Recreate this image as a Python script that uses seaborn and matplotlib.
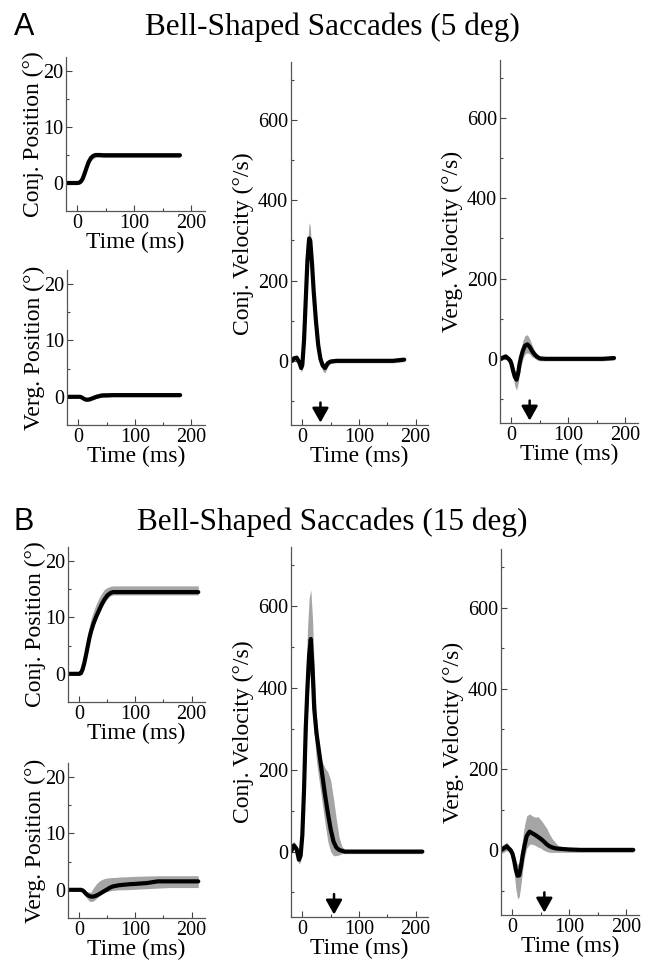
import numpy as np
import pandas as pd
import seaborn as sns
import matplotlib
matplotlib.use("Agg")
import matplotlib.pyplot as plt
from matplotlib.ticker import FixedLocator

# ---------------- data ----------------
# Panel A : 5 deg saccades
tA = [-18, -15, -10, -5, -2, 0, 3, 6, 9, 12, 14, 17, 20, 24, 28, 32, 36, 40, 45, 50,
      60, 80, 100, 120, 140, 160, 180]
conj_pos_A = [0, 0, 0, 0, 0, 0, 0.05, 0.25, 0.7, 1.5, 2.1, 3.0, 3.8, 4.5, 4.85, 5.0, 5.0, 5.0, 4.95, 4.95,
              4.95, 4.95, 4.95, 4.95, 4.95, 4.95, 4.95]
conj_pos_A_hi = [0.2, 0.2, 0.2, 0.2, 0.2, 0.2, 0.3, 0.6, 1.2, 2.1, 2.7, 3.6, 4.4, 5.0, 5.3, 5.4, 5.4, 5.4, 5.4, 5.4,
                 5.4, 5.4, 5.4, 5.4, 5.4, 5.4, 5.4]
conj_pos_A_lo = [-0.2, -0.2, -0.2, -0.2, -0.2, -0.2, -0.15, 0.0, 0.4, 1.1, 1.7, 2.5, 3.3, 4.0, 4.4, 4.6, 4.6, 4.6, 4.55, 4.55,
                 4.55, 4.55, 4.55, 4.55, 4.55, 4.55, 4.55]
verg_pos_A = [0, 0, 0, 0, 0, 0, 0, -0.1, -0.3, -0.45, -0.5, -0.5, -0.45, -0.3, -0.15, 0.0, 0.1, 0.2, 0.25, 0.25,
              0.3, 0.3, 0.3, 0.3, 0.3, 0.3, 0.3]
verg_pos_A_hi = [0.15, 0.15, 0.15, 0.15, 0.15, 0.15, 0.15, 0.1, -0.05, -0.15, -0.2, -0.15, -0.05, 0.15, 0.35, 0.5, 0.6, 0.7, 0.75, 0.75,
                 0.75, 0.75, 0.75, 0.75, 0.75, 0.75, 0.75]
verg_pos_A_lo = [-0.15, -0.15, -0.15, -0.15, -0.15, -0.15, -0.15, -0.3, -0.55, -0.75, -0.8, -0.8, -0.75, -0.6, -0.45, -0.3, -0.2, -0.1, -0.05, -0.05,
                 0.0, 0.0, 0.0, 0.0, 0.0, 0.0, 0.0]
conj_vel_A = [0, 6, 8, -5, -18, -10, 50, 150, 250, 305, 300, 245, 175, 100, 40, 5, -12, -18, -6, -2,
              0, 0, 0, 0, 0, 0, 3]
conj_vel_A_hi = [5, 12, 14, 2, -8, 5, 75, 185, 290, 345, 335, 270, 195, 118, 55, 15, -2, -8, 3, 5,
                 5, 5, 5, 5, 5, 5, 8]
conj_vel_A_lo = [-5, 0, 2, -12, -28, -22, 30, 120, 220, 275, 275, 225, 155, 80, 25, -5, -25, -30, -14, -6,
                 -5, -5, -5, -5, -5, -5, -2]
verg_vel_A = [0, 3, 6, 0, -5, -12, -30, -45, -52, -35, -15, 5, 20, 33, 36, 30, 20, 12, 5, 1,
              0, 0, 0, 0, 0, 0, 2]
verg_vel_A_hi = [5, 8, 12, 6, 2, -2, -15, -28, -32, -15, 5, 28, 45, 58, 60, 50, 35, 22, 12, 6,
                 5, 5, 5, 5, 5, 5, 6]
verg_vel_A_lo = [-5, -2, 0, -6, -12, -22, -45, -68, -78, -60, -38, -18, 0, 12, 15, 12, 5, 2, -3, -5,
                 -5, -5, -5, -5, -5, -5, -3]
arrow_A = 32

# Panel B : 15 deg saccades
tB = [-20, -15, -10, -6, -3, 0, 3, 6, 9, 12, 15, 18, 21, 25, 30, 35, 40, 45, 50, 55, 60, 65, 70, 75, 80,
      90, 100, 120, 140, 160, 180, 200, 212]
conj_pos_B = [0, 0, 0, 0, 0, 0, 0.1, 0.8, 1.9, 3.3, 4.8, 6.3, 7.5, 8.8, 10.1, 11.2, 12.3, 13.2, 13.9, 14.3, 14.5, 14.5, 14.5, 14.5, 14.5,
              14.5, 14.5, 14.5, 14.5, 14.5, 14.5, 14.5, 14.5]
conj_pos_B_hi = [0.2, 0.2, 0.2, 0.2, 0.2, 0.2, 0.4, 1.6, 3.3, 5.0, 6.8, 8.4, 9.7, 11.0, 12.3, 13.4, 14.3, 15.0, 15.3, 15.5, 15.6, 15.6, 15.6, 15.6, 15.6,
                 15.6, 15.6, 15.6, 15.6, 15.6, 15.6, 15.6, 15.6]
conj_pos_B_lo = [-0.2, -0.2, -0.2, -0.2, -0.2, -0.2, -0.1, 0.5, 1.4, 2.8, 4.2, 5.6, 6.9, 8.2, 9.5, 10.7, 11.7, 12.6, 13.3, 13.8, 14.0, 14.0, 14.0, 14.0, 14.0,
                 14.0, 14.0, 14.0, 14.0, 14.0, 14.0, 14.0, 14.0]
verg_pos_B = [0, 0, 0, 0, 0, 0, 0, -0.1, -0.35, -0.7, -0.95, -1.1, -1.2, -1.2, -1.05, -0.8, -0.5, -0.2, 0.1, 0.4, 0.6, 0.7, 0.8, 0.85, 0.9,
              1.0, 1.05, 1.2, 1.5, 1.5, 1.5, 1.5, 1.5]
verg_pos_B_hi = [0.15, 0.15, 0.15, 0.15, 0.15, 0.15, 0.15, 0.1, -0.05, -0.25, -0.35, -0.4, -0.4, 0.3, 1.0, 1.5, 1.8, 2.0, 2.1, 2.15, 2.2, 2.2, 2.25, 2.3, 2.3,
                 2.35, 2.4, 2.45, 2.5, 2.5, 2.5, 2.5, 2.5]
verg_pos_B_lo = [-0.15, -0.15, -0.15, -0.15, -0.15, -0.15, -0.15, -0.4, -0.8, -1.3, -1.7, -2.0, -2.1, -2.0, -1.6, -1.1, -0.7, -0.4, -0.3, -0.2, -0.1, -0.05, 0.0, 0.0, 0.0,
                 0.05, 0.1, 0.2, 0.3, 0.4, 0.4, 0.4, 0.4]
conj_vel_B = [0, 15, 6, -20, -10, 40, 150, 300, 400, 480, 520, 450, 350, 290, 240, 190, 140, 95, 55, 25, 10, 4, 2, 0, 0,
              0, 0, 0, 0, 0, 0, 0, 0]
conj_vel_B_hi = [15, 25, 15, 0, 5, 80, 250, 420, 540, 620, 640, 570, 450, 330, 250, 220, 205, 195, 175, 130, 80, 35, 12, 5, 5,
                 5, 5, 5, 5, 5, 5, 5, 5]
conj_vel_B_lo = [-5, 5, -5, -30, -25, 10, 90, 220, 330, 420, 440, 380, 290, 220, 170, 120, 70, 25, 0, -10, -10, -8, -5, -5, -5,
                 -5, -5, -5, -5, -5, -5, -5, -5]
verg_vel_B = [0, 5, 10, 4, 0, -8, -25, -48, -63, -62, -40, -12, 10, 35, 46, 42, 38, 33, 28, 22, 15, 10, 7, 5, 4,
              3, 2, 1, 1, 1, 1, 1, 1]
verg_vel_B_hi = [10, 15, 20, 12, 8, 2, -10, -25, -35, -30, -5, 30, 60, 85, 90, 85, 82, 83, 75, 65, 55, 40, 28, 20, 12,
                 8, 5, 5, 5, 5, 5, 5, 5]
verg_vel_B_lo = [-8, -5, 0, -5, -10, -25, -55, -95, -120, -115, -85, -50, -20, 5, 15, 15, 12, 8, 5, 0, -3, -5, -5, -5, -5,
                 -5, -5, -5, -5, -5, -5, -5, -5]
arrow_B = 56

titles = ["Bell-Shaped Saccades (5 deg)", "Bell-Shaped Saccades (15 deg)"]
letters = ["A", "B"]

# ---------------- style ----------------
sns.set_style("ticks")
plt.rcParams["font.family"] = ["Liberation Serif", "DejaVu Serif"]
plt.rcParams["text.color"] = "black"
plt.rcParams["axes.labelcolor"] = "black"
plt.rcParams["xtick.color"] = "black"
plt.rcParams["ytick.color"] = "black"

W, H = 653, 963
fig = plt.figure(figsize=(W / 100, H / 100), dpi=100)


def add_ax(l, t, r, b):
    return fig.add_axes([l / W, 1 - b / H, (r - l) / W, (b - t) / H])


def style(ax, kind, xmax):
    ax.set_xlim(-20, xmax)
    if kind == "pos":
        ax.set_ylim(-5, 22.5)
        ax.yaxis.set_major_locator(FixedLocator([0, 10, 20]))
        ax.yaxis.set_minor_locator(FixedLocator([5, 15]))
    else:
        ax.set_ylim(-160, 745)
        ax.yaxis.set_major_locator(FixedLocator([0, 200, 400, 600]))
        ax.yaxis.set_minor_locator(FixedLocator([-100, 100, 300, 500, 700]))
    ax.xaxis.set_major_locator(FixedLocator([0, 100, 200]))
    ax.xaxis.set_minor_locator(FixedLocator([50, 150]))
    ax.tick_params(which="both", direction="in", labelsize=14.5, pad=2, colors="#444", labelcolor="k")
    ax.tick_params(which="major", length=4, width=0.8)
    ax.tick_params(which="minor", length=2.5, width=0.8)
    for s in ["top", "right"]:
        ax.spines[s].set_visible(False)
    for s in ["left", "bottom"]:
        ax.spines[s].set_color("#555")
        ax.spines[s].set_linewidth(0.9)
    ax.set_xlabel("Time (ms)", fontsize=17, labelpad=-1, color="k")
    ax.set_facecolor("white")


def trace(ax, t, m, lo, hi):
    ax.fill_between(t, lo, hi, color="#9b9b9b", lw=0, alpha=0.9)
    sns.lineplot(x=t, y=m, ax=ax, color="k", lw=3.0, legend=False)


def arrow(ax, x):
    ax.annotate("", xy=(x, -154), xytext=(x, -104),
                arrowprops=dict(arrowstyle="-|>,head_length=0.8,head_width=0.45",
                                color="k", lw=1.8, shrinkA=0, shrinkB=0, mutation_scale=11))


panels = [
    dict(t=tA, xmax=224, ttl_y=35,
         cp=(conj_pos_A, conj_pos_A_lo, conj_pos_A_hi), vp=(verg_pos_A, verg_pos_A_lo, verg_pos_A_hi),
         cv=(conj_vel_A, conj_vel_A_lo, conj_vel_A_hi), vv=(verg_vel_A, verg_vel_A_lo, verg_vel_A_hi),
         arr=arrow_A,
         boxes=dict(cp=(66, 57, 205, 211), vp=(67, 270, 205, 425), cv=(291, 62, 428, 425), vv=(500, 60, 638, 423))),
    dict(t=tB, xmax=224, ttl_y=530,
         cp=(conj_pos_B, conj_pos_B_lo, conj_pos_B_hi), vp=(verg_pos_B, verg_pos_B_lo, verg_pos_B_hi),
         cv=(conj_vel_B, conj_vel_B_lo, conj_vel_B_hi), vv=(verg_vel_B, verg_vel_B_lo, verg_vel_B_hi),
         arr=arrow_B,
         boxes=dict(cp=(68, 547, 205, 702), vp=(68, 763, 205, 918), cv=(291, 547, 428, 917), vv=(501, 549, 639, 915))),
]

ylabels = dict(cp="Conj. Position (°)", vp="Verg. Position (°)",
               cv="Conj. Velocity (°/s)", vv="Verg. Velocity (°/s)")

for i, p in enumerate(panels):
    for key in ["cp", "vp", "cv", "vv"]:
        ax = add_ax(*p["boxes"][key])
        m, lo, hi = p[key]
        trace(ax, p["t"], m, lo, hi)
        is_pos = key in ("cp", "vp")
        style(ax, "pos" if is_pos else "vel", p["xmax"] if is_pos else 222)
        ax.set_ylabel(ylabels[key], fontsize=17, labelpad=-1 if is_pos else 3, color="k")
        if not is_pos:
            arrow(ax, p["arr"])
    fig.text(332 / W, 1 - p["ttl_y"] / H, titles[i], ha="center", va="baseline", fontsize=22.5, color="k")
    fig.text(14 / W, 1 - p["ttl_y"] / H, letters[i], ha="left", va="baseline", fontsize=22, color="k",
             family=["Liberation Sans", "DejaVu Sans"])

fig.savefig("out.png", dpi=100, facecolor="white")
